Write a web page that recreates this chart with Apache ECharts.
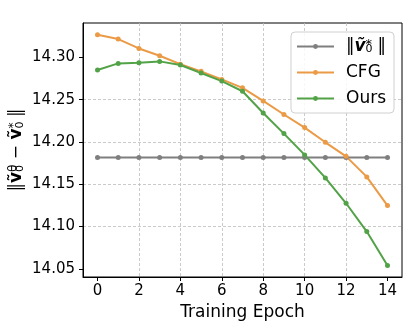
<!DOCTYPE html>
<html><head><meta charset="utf-8">
<script src="https://cdn.jsdelivr.net/npm/echarts@6/dist/echarts.min.js"></script>
<style>html,body{margin:0;padding:0;background:#fff}#c{width:414px;height:330px}</style>
</head><body><div id="c"></div>
<script>
var epochs = [0,1,2,3,4,5,6,7,8,9,10,11,12,13,14];
var refNorm = [14.1815,14.1815,14.1815,14.1815,14.1815,14.1815,14.1815,14.1815,14.1815,14.1815,14.1815,14.1815,14.1815,14.1815,14.1815];
var cfg = [14.3268,14.3217,14.3106,14.3020,14.2920,14.2835,14.2740,14.2640,14.2485,14.2325,14.2170,14.1996,14.1830,14.1587,14.1248];
var ours = [14.2851,14.2929,14.2937,14.2953,14.2910,14.2816,14.2720,14.2600,14.2343,14.2099,14.1847,14.1575,14.1275,14.0940,14.0539];
var xTicks = [0,2,4,6,8,10,12,14];
var yTicks = [14.05,14.10,14.15,14.20,14.25,14.30];

function pairs(v){ return epochs.map(function(e,i){ return [e, v[i]]; }); }
var FONT = 'DejaVu Sans';
var chart = echarts.init(document.getElementById('c'), null, {renderer:'canvas'});
var gridLine = {show:true, showMinLine:false, showMaxLine:false, lineStyle:{color:'#bdbdbd', type:[3,2], width:0.8}};
function mk(name, data, color){
  return {name:name, type:'line', data:pairs(data), symbol:'circle', symbolSize:5,
    lineStyle:{color:color, width:2}, itemStyle:{color:color}, showSymbol:true, animation:false, z:3};
}
chart.setOption({
  animation:false,
  textStyle:{fontFamily:FONT},
  grid:{left:83, right:12, top:23, bottom:53, show:true, borderColor:'#000', borderWidth:1, backgroundColor:'#fff',
    outerBoundsMode:'none', containLabel:false},
  legend:{
    right:20, top:32, orient:'vertical', itemWidth:37, itemHeight:6, itemGap:9,
    backgroundColor:'rgba(255,255,255,0.85)', borderColor:'#d0d0d0', borderWidth:1, borderRadius:4,
    padding:[6,8,6,5],
    data:['ref','CFG','Ours'],
    formatter:function(n){ return n==='ref' ? '{p|}{n|‖}{v|ṽ}{s|0}{t|*}{n| ‖}' : '{p|}{n|'+n+'}'; },
    textStyle:{fontFamily:FONT, fontSize:17, color:'#000',
      rich:{p:{width:7}, n:{fontSize:17, fontFamily:FONT}, v:{fontSize:17, fontWeight:'bold', fontStyle:'italic', fontFamily:FONT},
            s:{fontSize:11, fontFamily:FONT, verticalAlign:'bottom', padding:[6,0,0,0]},
            t:{fontSize:13, fontFamily:FONT, verticalAlign:'top', padding:[0,0,4,-7]}}}
  },
  xAxis:{type:'value', min:-0.7, max:14.7, interval:2, name:'Training Epoch', nameLocation:'middle', nameGap:26,
    nameTextStyle:{fontSize:17, color:'#000', fontFamily:FONT},
    axisLine:{show:true, onZero:false, lineStyle:{color:'#000', width:1}},
    axisTick:{show:true, length:4, inside:false, customValues:xTicks, lineStyle:{color:'#000'}},
    axisLabel:{fontSize:15, color:'#000', margin:7, customValues:xTicks, fontFamily:FONT},
    splitLine:gridLine},
  yAxis:{type:'value', min:14.0403, max:14.3407, interval:0.05,
    name:'{n|‖}{v|ṽ}{s|0}{t|θ}{n| − }{v|ṽ}{s|0}{t|*}{n| ‖}', nameLocation:'middle', nameGap:57, nameRotate:90,
    nameMoveOverlap:false,
    nameTextStyle:{fontSize:17, color:'#000', fontFamily:FONT,
      rich:{n:{fontSize:17, fontFamily:FONT}, v:{fontSize:17, fontWeight:'bold', fontFamily:FONT},
            s:{fontSize:11, fontFamily:FONT, verticalAlign:'bottom', padding:[7,0,0,0]},
            t:{fontSize:12, fontFamily:FONT, verticalAlign:'top', padding:[0,0,6,-7]}}},
    axisLine:{show:true, onZero:false, lineStyle:{color:'#000', width:1}},
    axisTick:{show:true, length:4, customValues:yTicks, lineStyle:{color:'#000'}},
    axisLabel:{fontSize:15, color:'#000', margin:8, customValues:yTicks, fontFamily:FONT,
      formatter:function(v){return v.toFixed(2);}},
    splitLine:gridLine},
  series:[mk('ref', refNorm, '#7f7f7f'), mk('CFG', cfg, '#eb9a46'), mk('Ours', ours, '#52a247')]
});
</script></body></html>
